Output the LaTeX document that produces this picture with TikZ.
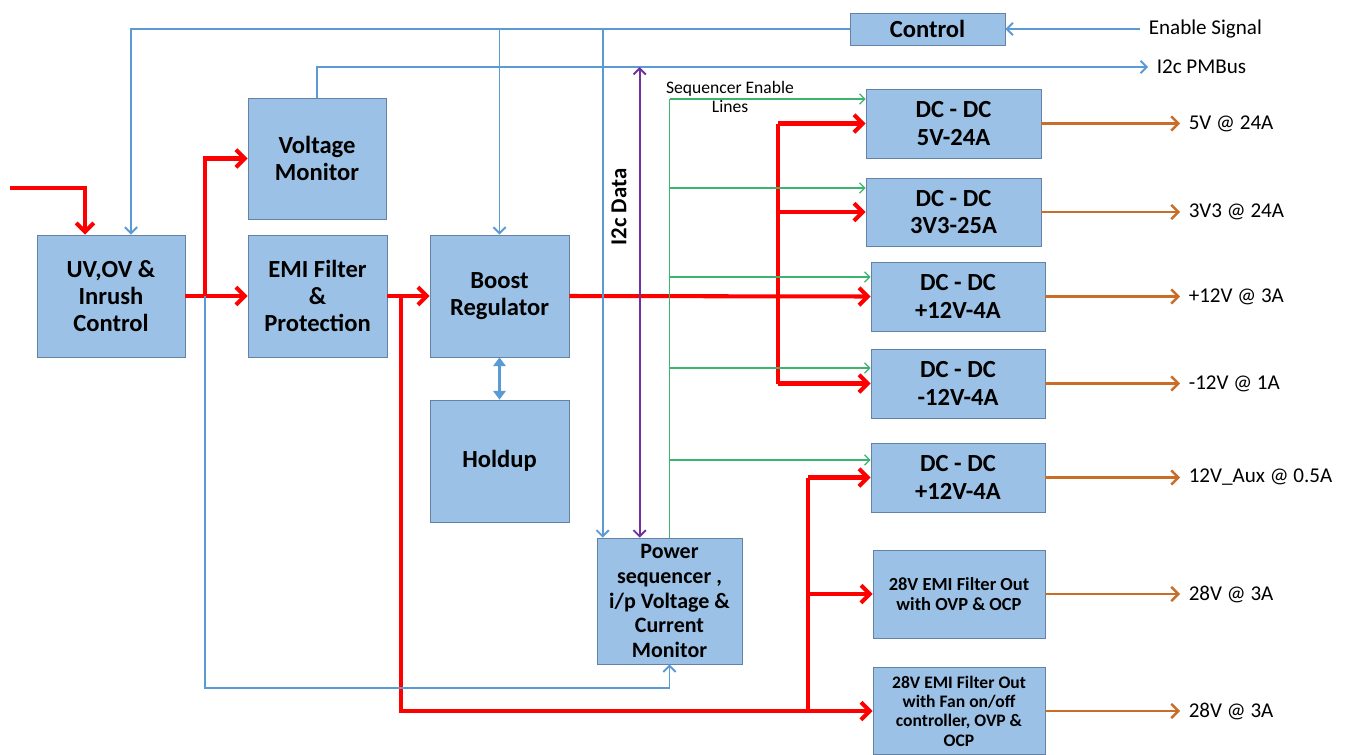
\documentclass[tikz,border=0pt]{standalone}
\usepackage{fontspec}
\setmainfont{Carlito}
\usetikzlibrary{arrows.meta,calc}

\definecolor{boxfill}{RGB}{155,194,230}
\definecolor{boxline}{RGB}{100,130,165}
\definecolor{sigblue}{RGB}{91,155,213}
\definecolor{outorange}{RGB}{200,110,40}
\definecolor{seqgreen}{RGB}{60,180,110}
\definecolor{datapurple}{RGB}{112,48,160}

\begin{document}
\begin{tikzpicture}[x=0.02cm, y=-0.02cm,
	block/.style={draw=boxline, fill=boxfill, align=center, inner sep=1pt,
		font=\bfseries\fontsize{14}{15.5}\selectfont},
	smallblock/.style={block, font=\bfseries\fontsize{10.5}{11.5}\selectfont},
	power/.style={red, line width=2.3pt, -{Straight Barb[length=5pt,width=10pt]}},
	powerbus/.style={red, line width=2.3pt},
	signal/.style={sigblue, line width=1.1pt, -{Straight Barb[length=3.5pt,width=7pt]}},
	seqline/.style={seqgreen, line width=0.7pt, -{Straight Barb[length=3pt,width=6pt]}},
	data/.style={datapurple, line width=1.1pt, {Straight Barb[length=3.5pt,width=7pt]}-{Straight Barb[length=3.5pt,width=7pt]}},
	output/.style={outorange, line width=1.4pt, -{Straight Barb[length=4pt,width=8pt]}},
	lbl/.style={text=black, font=\fontsize{12}{14}\selectfont, inner sep=0pt, outer sep=5pt}]
	
	% Page frame
	\fill[white] (0,0) rectangle (1358,754);
	\useasboundingbox (0,0) rectangle (1358,754);
	
	% Input side blocks
	\node[block, minimum width=3.1cm, minimum height=0.64cm] (ctrl) at (927.5,29) {Control};
	\node[block, minimum width=2.96cm, minimum height=2.44cm] (uvbox) at (111,296) {UV,OV \&\\Inrush\\Control};
	\node[block, minimum width=2.76cm, minimum height=2.42cm] (vmon) at (317,158.5) {Voltage\\Monitor};
	\node[block, minimum width=2.78cm, minimum height=2.44cm] (emi) at (317.5,296) {EMI Filter\\\&\\Protection};
	\node[block, minimum width=2.78cm, minimum height=2.44cm] (boost) at (499.5,296) {Boost\\Regulator};
	\node[block, minimum width=2.78cm, minimum height=2.44cm] (holdup) at (499.5,461) {Holdup};
	\node[block, minimum width=2.9cm, minimum height=2.52cm,
		font=\bfseries\fontsize{12.5}{14}\selectfont] (pseq) at (669.5,601) {Power\\sequencer ,\\i/p Voltage \&\\Current\\Monitor};
	
	% Output converters
	\node[block, minimum width=3.5cm, minimum height=1.38cm] (dcfive) at (953.5,123.5) {DC - DC\\5V-24A};
	\node[block, minimum width=3.5cm, minimum height=1.36cm] (dcthree) at (953.5,212) {DC - DC\\3V3-25A};
	\node[block, minimum width=3.48cm, minimum height=1.38cm] (dcpos) at (958,296.5) {DC - DC\\+12V-4A};
	\node[block, minimum width=3.48cm, minimum height=1.38cm] (dcneg) at (958,383.5) {DC - DC\\-12V-4A};
	\node[block, minimum width=3.48cm, minimum height=1.38cm] (dcaux) at (958,477.5) {DC - DC\\+12V-4A};
	\node[smallblock, minimum width=3.44cm, minimum height=1.76cm] (emiout) at (959,594) {28V EMI Filter Out\\with OVP \& OCP};
	\node[smallblock, minimum width=3.44cm, minimum height=1.74cm,
		font=\bfseries\fontsize{10}{11}\selectfont] (fanout) at (959,711) {28V EMI Filter Out\\with Fan on/off\\controller, OVP \&\\OCP};
	
	% Free ends and taps
	\coordinate (inlet) at (10,188);
	\coordinate (uvin) at ($(uvbox.north)+(-26,0)$);
	\coordinate (uvctl) at ($(uvbox.north)+(20,0)$);
	\coordinate (vmtap) at (205,296);
	\coordinate (fantap) at (401,296);
	\coordinate (busa) at (778,296);
	\coordinate (busb) at (808,600);
	\coordinate (monturn) at (205,688);
	\coordinate (pseqctl) at ($(pseq.north west)+(6,0)$);
	\coordinate (pseqdata) at ($(pseq.north west)+(43,0)$);
	\coordinate (seqbus) at (669.5,99);
	\coordinate (outcol) at (1180,0);
	
	% Power path
	\draw[power] (inlet) -| (uvin);
	\draw[power] (uvbox.east) -- (emi.west);
	\draw[power] (vmtap) |- (vmon.west);
	\draw[power] (emi.east) -- (boost.west);
	\draw[power] (fantap) |- (fanout.west);
	\draw[power] (boost.east) -- (dcpos.west);
	\draw[powerbus] (busa |- dcfive.west) -- (busa |- dcneg.west);
	\foreach \dc in {dcfive, dcthree, dcneg}
		\draw[power] (busa |- \dc.west) -- (\dc.west);
	\draw[powerbus] (busb |- dcaux.west) -- (busb |- fanout.west);
	\foreach \dc in {dcaux, emiout}
		\draw[power] (busb |- \dc.west) -- (\dc.west);
	
	% Control and monitoring signals
	\node[lbl, anchor=west] (enable) at (1140,29) {Enable Signal};
	\node[lbl, anchor=west] (pmbus) at (1148,67) {I2c PMBus};
	\draw[signal] (enable.west) -- (ctrl.east);
	\draw[signal] (ctrl.west) -| (uvctl);
	\draw[signal] (boost.north |- ctrl.west) -- (boost.north);
	\draw[signal] (pseqctl |- ctrl.west) -- (pseqctl);
	\draw[signal] (vmon.north) |- (pmbus.west);
	\draw[signal] (vmtap) -- (monturn) -| (pseq.south);
	\draw[sigblue, line width=2pt, {Triangle[length=5pt,width=7pt]}-{Triangle[length=5pt,width=7pt]}] (boost.south) -- (holdup.north);
	
	% I2c data bus
	\draw[data] (pseqdata |- pmbus.west) -- (pseqdata);
	\node[rotate=90, font=\bfseries\fontsize{13}{15}\selectfont] (i2c) at (619,207) {I2c Data};
	
	% Sequencer enable lines
	\node[font=\fontsize{10}{11}\selectfont, align=center, inner sep=0pt] (seqtxt) at (730,97) {Sequencer Enable\\Lines};
	\draw[seqgreen, line width=0.7pt] (seqbus) -- (pseq.north);
	\foreach \dc/\yy in {dcfive/99, dcthree/188, dcpos/277, dcneg/368, dcaux/460} {
		\coordinate (seqy) at (669.5,\yy);
		\draw[seqline] (seqy) -- (\dc.west |- seqy);
	}
	
	% Output rails
	\foreach \dc/\volt in {dcfive/5V @ 24A, dcthree/3V3 @ 24A, dcpos/+12V @ 3A, dcneg/-12V @ 1A,
		dcaux/12V\_Aux @ 0.5A, emiout/28V @ 3A, fanout/28V @ 3A}
		\draw[output] (\dc.east) -- (\dc.east -| outcol) node[lbl, anchor=west] (\dc-v) {\volt};
\end{tikzpicture}
\end{document}
